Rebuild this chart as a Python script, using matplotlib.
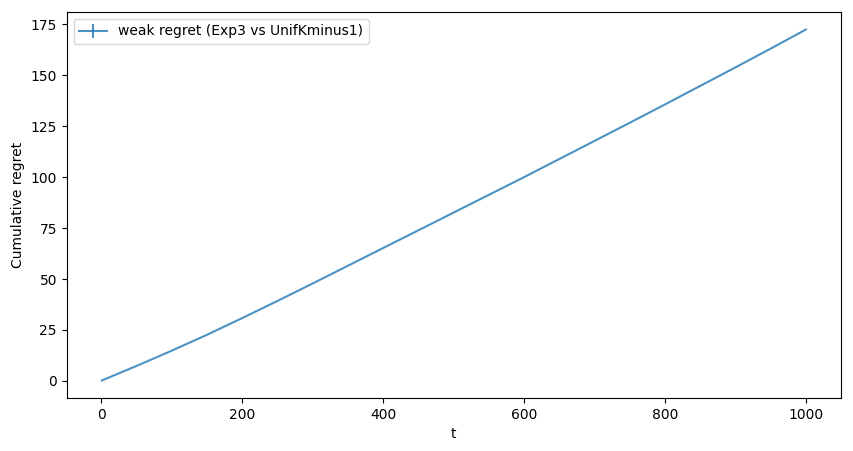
import numpy as np
import matplotlib
matplotlib.use("Agg")
import matplotlib.pyplot as plt

t = [1, 50, 100, 150, 200, 250, 300, 350, 400, 450, 500,
     550, 600, 650, 700, 750, 800, 850, 900, 950, 1000]
regret = [0.2, 7.3, 14.8, 22.6, 30.8, 39.2, 47.8, 56.5, 65.2, 73.9, 82.6,
          91.3, 100.0, 108.9, 117.8, 126.7, 135.7, 144.8, 153.9, 163.1, 172.5]
regret_err = [0.0] * len(t)

fig = plt.figure(figsize=(8.54, 4.51), dpi=100)
ax = fig.add_axes([66.7 / 854, 53 / 451, 774.3 / 854, 386 / 451])

ax.errorbar(t, regret, yerr=regret_err, alpha=0.8,
            label="weak regret (Exp3 vs UnifKminus1)")
ax.set_xlabel("t")
ax.set_ylabel("Cumulative regret")
ax.legend(loc="upper left")

fig.savefig("out.png", dpi=100)
